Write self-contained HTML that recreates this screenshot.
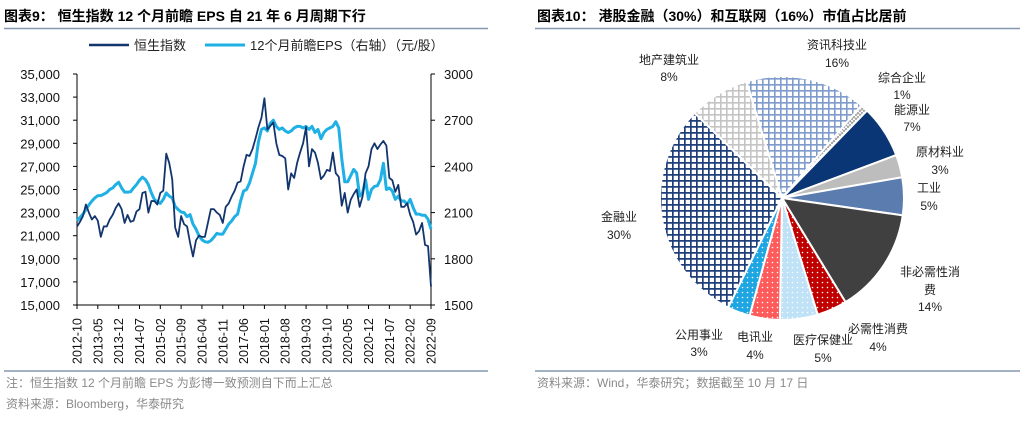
<!DOCTYPE html>
<html><head><meta charset="utf-8">
<style>
body{margin:0;width:1024px;height:421px;background:#fff;overflow:hidden;font-family:"Liberation Sans","Noto Sans CJK SC",sans-serif;}
svg{position:absolute;left:0;top:0}
text{font-family:"Liberation Sans","Noto Sans CJK SC",sans-serif;}
</style></head>
<body>
<svg id="c" width="1024" height="421" viewBox="0 0 1024 421">
<defs>
<pattern id="pFin" width="6" height="6" patternUnits="userSpaceOnUse"><rect width="6" height="6" fill="#fff"/><path d="M0 0.8H6M0.8 0V6" stroke="#1f3f7a" stroke-width="1.8"/></pattern>
<pattern id="pIT" width="6" height="6" patternUnits="userSpaceOnUse"><rect width="6" height="6" fill="#fff"/><path d="M0 0.8H6M0.8 0V6" stroke="#7f9bcc" stroke-width="1.6"/></pattern>
<pattern id="pRE" width="6" height="6" patternUnits="userSpaceOnUse"><rect width="6" height="6" fill="#fff"/><path d="M0 0.8H6M0.8 0V6" stroke="#c4c4c4" stroke-width="1.6"/></pattern>
<pattern id="pCon" width="4" height="4" patternUnits="userSpaceOnUse"><rect width="4" height="4" fill="#fff"/><path d="M0 4L2 0L4 4" stroke="#999" stroke-width="1" fill="none"/></pattern>
<pattern id="pRed" width="5" height="5" patternUnits="userSpaceOnUse"><rect width="5" height="5" fill="#c00000"/><circle cx="2.5" cy="2.5" r="0.8" fill="#fff"/></pattern>
<pattern id="pMed" width="5" height="5" patternUnits="userSpaceOnUse"><rect width="5" height="5" fill="#bfe2f6"/><circle cx="2.5" cy="2.5" r="0.8" fill="#fff"/></pattern>
<pattern id="pTel" width="5" height="5" patternUnits="userSpaceOnUse"><rect width="5" height="5" fill="#ff5b5b"/><circle cx="2.5" cy="2.5" r="0.8" fill="#fff"/></pattern>
<pattern id="pUtl" width="5" height="5" patternUnits="userSpaceOnUse"><rect width="5" height="5" fill="#1ea6e2"/><circle cx="2.5" cy="2.5" r="0.8" fill="#fff"/></pattern>
</defs>
<text x="4" y="21" font-size="14" font-weight="bold" fill="#000">图表9：  恒生指数 12 个月前瞻 EPS 自 21 年 6 月周期下行</text>
<line x1="4" y1="28.5" x2="488" y2="28.5" stroke="#8497b0" stroke-width="1.5"/>
<text x="537" y="21" font-size="14" font-weight="bold" fill="#000">图表10：  港股金融（30%）和互联网（16%）市值占比居前</text>
<line x1="535" y1="28.5" x2="1020" y2="28.5" stroke="#8497b0" stroke-width="1.5"/>
<g>
<line x1="89" y1="45" x2="129" y2="45" stroke="#12356e" stroke-width="2.5"/>
<text x="134" y="50" font-size="13" fill="#222">恒生指数</text>
<line x1="205" y1="45" x2="245" y2="45" stroke="#1fb0e6" stroke-width="3"/>
<text x="250" y="50" font-size="13" fill="#222">12个月前瞻EPS（右轴）（元/股）</text>
</g>
<g id="axes"></g>
<g id="lines"></g>
<line x1="4" y1="371" x2="488" y2="371" stroke="#8497b0" stroke-width="1.5"/>
<text x="6" y="387" font-size="12" fill="#8a8a8a">注：恒生指数 12 个月前瞻 EPS 为彭博一致预测自下而上汇总</text>
<text x="6" y="408" font-size="12" fill="#8a8a8a">资料来源：Bloomberg，华泰研究</text>
<line x1="535" y1="371" x2="1020" y2="371" stroke="#8497b0" stroke-width="1.5"/>
<text x="537" y="387" font-size="12" fill="#8a8a8a">资料来源：Wind，华泰研究；数据截至 10 月 17 日</text>
<g id="pie"></g>
<g id="pieLabels" font-size="12" fill="#222" text-anchor="middle"></g>
</svg>
<script>
const NS="http://www.w3.org/2000/svg";
const xTickLabels=["2012-10","2013-05","2013-12","2014-07","2015-02","2015-09","2016-04","2016-11","2017-06","2018-01","2018-08","2019-03","2019-10","2020-05","2020-12","2021-07","2022-02","2022-09"];
const leftTicks=[15000,17000,19000,21000,23000,25000,27000,29000,31000,33000,35000];
const rightTicks=[1500,1800,2100,2400,2700,3000];
const hsi=[21800,22200,22700,23700,23000,22400,22700,22300,20900,21800,21800,22400,22800,23400,23800,23300,22100,22800,22200,22300,23100,23300,24700,24800,23000,24000,24000,23700,24700,24900,28100,27300,25900,21700,20900,22700,22000,21800,20400,19200,20600,21000,20900,20900,22100,23300,23300,23000,22800,22100,23500,23800,24400,24900,25600,25700,27000,28000,27900,28500,29400,30400,31200,32900,30200,30500,30800,29000,28000,27900,27700,25000,26400,26000,27300,28200,29000,30400,27000,28500,28200,27300,25900,26200,26700,26600,28200,26400,26100,23600,24700,23000,24100,24600,25000,23500,24400,26400,27000,28500,29000,28500,28900,29200,28800,26000,25800,24800,25400,23500,23500,23800,22800,22200,21100,21400,22100,20200,20100,16600];
const eps=[2046,2068,2090,2120,2150,2175,2195,2210,2210,2220,2230,2250,2260,2282,2297,2260,2233,2233,2235,2260,2282,2310,2330,2314,2282,2228,2186,2170,2160,2186,2228,2207,2196,2140,2120,2104,2100,2074,2087,2025,1993,1950,1924,1911,1907,1918,1940,1965,1960,1960,1993,2025,2046,2074,2090,2175,2240,2250,2293,2357,2420,2560,2640,2650,2630,2680,2700,2660,2640,2650,2630,2620,2630,2650,2660,2660,2650,2660,2640,2660,2620,2640,2580,2620,2640,2650,2660,2690,2650,2450,2300,2300,2340,2380,2357,2207,2228,2314,2186,2250,2270,2275,2314,2420,2250,2260,2240,2186,2207,2175,2175,2154,2186,2132,2090,2090,2083,2083,2057,1993];
const sectors=["资讯科技业","综合企业","能源业","原材料业","工业","非必需性消费","必需性消费","医疗保健业","电讯业","公用事业","金融业","地产建筑业"];
const shares=[16,1,7,3,5,14,4,5,4,3,30,8];
const startAngle=-17;

const X0=77,X1=431,YT=74,YB=305;
const xs=i=>X0+(X1-X0)*i/(hsi.length-1);
const yL=v=>YB-(v-15000)/20000*(YB-YT);
const yR=v=>YB-(v-1500)/1500*(YB-YT);
function mk(t,a,p){const e=document.createElementNS(NS,t);for(const k in a)e.setAttribute(k,a[k]);(p||document.getElementById('c')).appendChild(e);return e;}
const ax=document.getElementById('axes');
let e=mk('line',{x1:X0,y1:YT,x2:X0,y2:YB,stroke:'#000','stroke-width':1},ax);

e=mk('line',{x1:X1,y1:YT,x2:X1,y2:YB,stroke:'#000','stroke-width':1},ax);

e=mk('line',{x1:X0,y1:YB,x2:X1,y2:YB,stroke:'#000','stroke-width':1},ax);

leftTicks.forEach(v=>{const y=yL(v);mk('line',{x1:X0-4,y1:y,x2:X0,y2:y,stroke:'#000'},ax);
 const t=mk('text',{x:X0-17,y:y+5,'font-size':13,'text-anchor':'end',fill:'#111'},ax);t.textContent=v.toLocaleString('en-US');
 });
rightTicks.forEach(v=>{const y=yR(v);mk('line',{x1:X1,y1:y,x2:X1+4,y2:y,stroke:'#000'},ax);
 const t=mk('text',{x:X1+13,y:y+5,'font-size':13,fill:'#111'},ax);t.textContent=v;
 });
xTickLabels.forEach((s,k)=>{const x=X0+(X1-X0)*k/(xTickLabels.length-1);mk('line',{x1:x,y1:YB,x2:x,y2:YB+4,stroke:'#000'},ax);
 const t=mk('text',{x:0,y:0,'font-size':12.5,fill:'#111',transform:`translate(${x+4.5},${YB+59}) rotate(-90)`},ax);t.textContent=s;
 });
const ln=document.getElementById('lines');
e=mk('polyline',{points:eps.map((v,i)=>xs(i)+','+yR(v)).join(' '),fill:'none',stroke:'#1fb0e6','stroke-width':3,'stroke-linejoin':'round'},ln);

e=mk('polyline',{points:hsi.map((v,i)=>xs(i)+','+yL(v)).join(' '),fill:'none',stroke:'#12356e','stroke-width':1.8,'stroke-linejoin':'round'},ln);


// pie
const CX=782,CY=198,R=122;
const fills=['url(#pIT)','url(#pCon)','#0b3675','#bdbdbd','#5b7cae','#404040','url(#pRed)','url(#pMed)','url(#pTel)','url(#pUtl)','url(#pFin)','url(#pRE)'];
const labelPos=[[837,49,67],[902,82,99],[912,114,131],[940,156,174],[929,192,210],[930,276,294,311],[878,333,351],[823,344,362],[755,341,359],[699,339,356],[619,221,239],[669,64,81]];
const pg=document.getElementById('pie');const lg=document.getElementById('pieLabels');
const tot=shares.reduce((a,b)=>a+b,0);let a=startAngle;
shares.forEach((s,i)=>{const a0=a,a1=a+s/tot*360;a=a1;
 const p=d=>[CX+R*Math.sin(d*Math.PI/180),CY-R*Math.cos(d*Math.PI/180)];
 const [x0,y0]=p(a0),[x1,y1]=p(a1);
 const el=mk('path',{d:`M${CX},${CY}L${x0},${y0}A${R},${R} 0 ${a1-a0>180?1:0} 1 ${x1},${y1}Z`,fill:fills[i],stroke:'#fff','stroke-width':2},pg);
 
 const lp=labelPos[i];
 if(lp.length===4){
  let t=mk('text',{x:lp[0],y:lp[1]},lg);t.textContent=sectors[i].slice(0,5);
  t=mk('text',{x:lp[0],y:lp[2]},lg);t.textContent=sectors[i].slice(5);
  t=mk('text',{x:lp[0],y:lp[3]},lg);t.textContent=s+'%';
 }else{
  let t=mk('text',{x:lp[0],y:lp[1]},lg);t.textContent=sectors[i];
  t=mk('text',{x:lp[0],y:lp[2]},lg);t.textContent=s+'%';
 }
});
</script>
</body></html>
